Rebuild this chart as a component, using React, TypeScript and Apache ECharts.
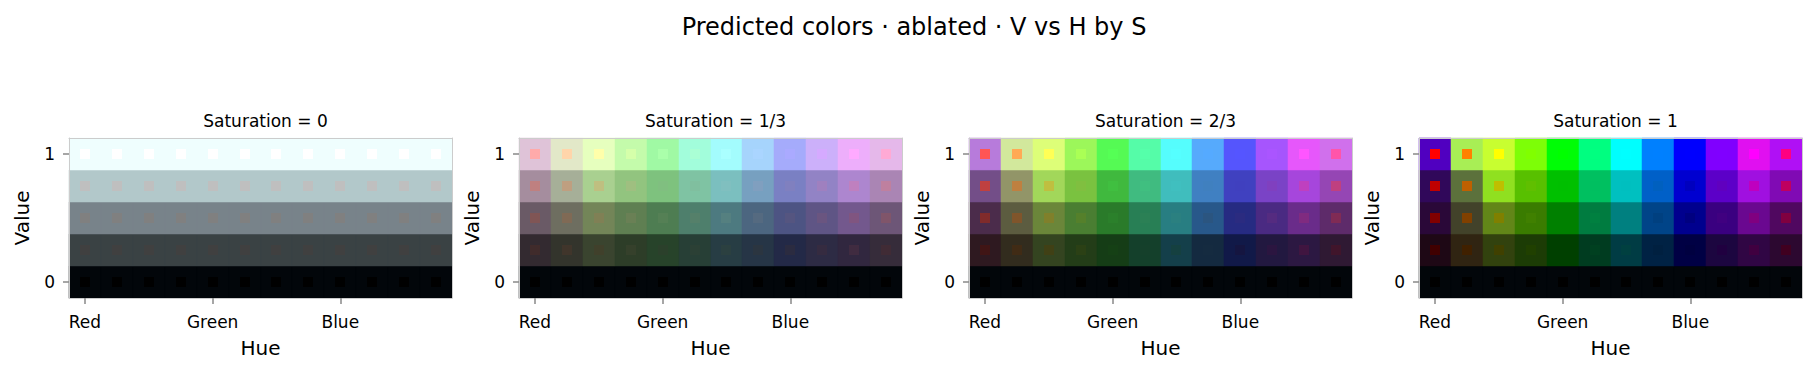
import React, { useEffect, useRef } from "react";
import * as echarts from "echarts";

const TITLE = "Predicted colors · ablated · V vs H by S";
const HUE_INDEX = [0, 1, 2, 3, 4, 5, 6, 7, 8, 9, 10, 11];
const HUE_LABELS = ["Red", "", "", "", "Green", "", "", "", "Blue", "", "", ""];
const VALUES = [0, 0.25, 0.5, 0.75, 1];
const VALUE_LABELS = ["0", "", "", "", "1"];
const SATURATIONS = [0, 1 / 3, 2 / 3, 1];
const SAT_LABELS = ["0", "1/3", "2/3", "1"];

// predicted colours, rows from V=0 (bottom) to V=1 (top), 12 hues each
const PRED_S0 = [
  ["#02060a", "#02060a", "#02060a", "#02060a", "#02060a", "#02060a", "#02060a", "#02060a", "#02060a", "#02060a", "#02060a", "#02060a"],
  ["#3a4244", "#3a4244", "#3a4244", "#3a4244", "#3a4244", "#3a4244", "#3a4244", "#3a4244", "#3a4244", "#3a4244", "#3a4244", "#3a4244"],
  ["#78838a", "#78838a", "#78838a", "#78838a", "#78838a", "#78838a", "#78838a", "#78838a", "#78838a", "#78838a", "#78838a", "#78838a"],
  ["#b2c8ca", "#b2c8ca", "#b2c8ca", "#b2c8ca", "#b2c8ca", "#b2c8ca", "#b2c8ca", "#b2c8ca", "#b2c8ca", "#b2c8ca", "#b2c8ca", "#b2c8ca"],
  ["#effefe", "#effefe", "#effefe", "#effefe", "#effefe", "#effefe", "#effefe", "#effefe", "#effefe", "#effefe", "#effefe", "#effefe"],
];
const PRED_S1 = [
  ["#02060a", "#02060a", "#02060a", "#02060a", "#02060a", "#02060a", "#02060a", "#02060a", "#02060a", "#02060a", "#02060a", "#02060a"],
  ["#332a30", "#33342c", "#3a442f", "#2d3d28", "#27432a", "#273f36", "#273d44", "#263546", "#232947", "#2d2b44", "#31273f", "#362c3a"],
  ["#6a5a66", "#6e6e60", "#738558", "#5f7f52", "#4e7d52", "#4e7f6c", "#4d7a80", "#4c6680", "#4d5483", "#5f5585", "#73588d", "#6d5677"],
  ["#a58d9e", "#a6af98", "#a9d090", "#92c47f", "#7ec27e", "#7fc3a3", "#7bbfbf", "#77a0c0", "#7a80c3", "#9283c5", "#ad86cf", "#aa85b4"],
  ["#dfc3d8", "#e2e8c8", "#e6ffbe", "#c4fbab", "#a0f9a4", "#a2fddb", "#a3fcfd", "#a6d4fc", "#a5abfb", "#ccb0fa", "#edaefb", "#e5b8ea"],
];
const PRED_S2 = [
  ["#02060a", "#02060a", "#02060a", "#02060a", "#02060a", "#02060a", "#02060a", "#02060a", "#02060a", "#02060a", "#02060a", "#02060a"],
  ["#2e1920", "#322c1e", "#344420", "#233d18", "#153d16", "#14402b", "#143f4a", "#142a40", "#111948", "#221840", "#2c1842", "#2f1933"],
  ["#4b2c4b", "#5c5c40", "#6b863a", "#4a7e32", "#2a7b2a", "#287f55", "#287e82", "#28588a", "#262b82", "#4a2a82", "#6a2c8a", "#5e2b6a"],
  ["#734e88", "#929568", "#a2d75a", "#7ac240", "#40b93e", "#40bb80", "#40bdbd", "#4080c2", "#4041c0", "#7a43c6", "#a646dc", "#9546b4"],
  ["#b77bdb", "#d2e89c", "#ddfe78", "#9cf75a", "#55fa54", "#55fca8", "#55fdfd", "#56aafc", "#5555fd", "#a655fd", "#e657fb", "#d070ec"],
];
const PRED_S3 = [
  ["#02060a", "#02060a", "#02060a", "#02060a", "#02060a", "#02060a", "#02060a", "#02060a", "#02060a", "#02060a", "#02060a", "#02060a"],
  ["#1e0815", "#302412", "#32420e", "#1c3c05", "#004000", "#003c20", "#003c44", "#002244", "#000044", "#1c0640", "#300644", "#2c0830"],
  ["#2a0838", "#42422a", "#628618", "#3a7c00", "#008000", "#007c40", "#008080", "#004488", "#00008e", "#3a0080", "#6a0890", "#500860"],
  ["#30085a", "#5c713c", "#90e020", "#58c000", "#00c000", "#00c060", "#00c0c0", "#0060c8", "#0000d0", "#5c00c8", "#a010e0", "#800ab4"],
  ["#5000c0", "#a8ee55", "#c8fe30", "#7dfe07", "#00fd06", "#00fe80", "#00fefe", "#0080fe", "#0000fe", "#8000fe", "#e010f0", "#b010f5"],
];
const PRED = [PRED_S0, PRED_S1, PRED_S2, PRED_S3];

// the true colour of a cell is the HSV colour at its coordinates
function hsvToHex(h: number, s: number, v: number): string {
  const i = Math.floor(h * 6);
  const f = h * 6 - i;
  const p = v * (1 - s);
  const q = v * (1 - f * s);
  const t = v * (1 - (1 - f) * s);
  let r = 0, g = 0, b = 0;
  switch (((i % 6) + 6) % 6) {
    case 0: r = v; g = t; b = p; break;
    case 1: r = q; g = v; b = p; break;
    case 2: r = p; g = v; b = t; break;
    case 3: r = p; g = q; b = v; break;
    case 4: r = t; g = p; b = v; break;
    default: r = v; g = p; b = q; break;
  }
  const hx = (x: number) => Math.round(x * 255).toString(16).padStart(2, "0");
  return "#" + hx(r) + hx(g) + hx(b);
}

const FONT = "DejaVu Sans";
const GRID_LEFTS = [69, 519, 969, 1419];
const GRID_W = 383;
const GRID_TOP = 138;
const GRID_H = 160;

export default function App() {
  const ref = useRef<HTMLDivElement>(null);
  useEffect(() => {
    document.body.style.margin = "0";
    const chart = echarts.init(ref.current!, null, { renderer: "svg" });
    const grids: any[] = [];
    const xAxes: any[] = [];
    const yAxes: any[] = [];
    const series: any[] = [];
    const titles: any[] = [
      {
        text: TITLE,
        left: 909,
        top: 10,
        textAlign: "center",
        textStyle: { fontFamily: FONT, fontSize: 24, fontWeight: "normal", color: "#000" },
      },
    ];
    SATURATIONS.forEach((s, k) => {
      grids.push({ left: GRID_LEFTS[k], top: GRID_TOP, width: GRID_W, height: GRID_H, containLabel: false });
      titles.push({
        text: "Saturation = " + SAT_LABELS[k],
        left: GRID_LEFTS[k] + GRID_W / 2,
        top: 107,
        textAlign: "center",
        textStyle: { fontFamily: FONT, fontSize: 17, fontWeight: "normal", color: "#000" },
      });
      xAxes.push({
        type: "category",
        gridIndex: k,
        data: HUE_INDEX.map(String),
        position: "bottom",
        boundaryGap: true,
        z: 5,
        axisLine: { show: true, lineStyle: { color: "#cccccc", width: 1 } },
        axisTick: {
          show: true,
          alignWithLabel: true,
          length: 6,
          interval: (i: number) => HUE_LABELS[i] !== "",
          lineStyle: { color: "#888888", width: 1.5 },
        },
        axisLabel: {
          interval: 0,
          margin: 15,
          formatter: (_v: string, i: number) => HUE_LABELS[i],
          fontFamily: FONT,
          fontSize: 17,
          color: "#000",
        },
        splitLine: { show: false },
        name: "Hue",
        nameLocation: "middle",
        nameGap: 40,
        nameTextStyle: { fontFamily: FONT, fontSize: 20, color: "#000" },
      });
      xAxes.push({
        type: "category",
        gridIndex: k,
        data: HUE_INDEX.map(String),
        position: "top",
        z: 5,
        axisLine: { show: true, lineStyle: { color: "#cccccc", width: 1 } },
        axisTick: { show: false },
        axisLabel: { show: false },
      });
      yAxes.push({
        type: "category",
        gridIndex: k,
        data: VALUES.map(String),
        position: "left",
        boundaryGap: true,
        z: 5,
        axisLine: { show: true, lineStyle: { color: "#cccccc", width: 1 } },
        axisTick: {
          show: true,
          alignWithLabel: true,
          length: 6,
          interval: (i: number) => VALUE_LABELS[i] !== "",
          lineStyle: { color: "#888888", width: 1.5 },
        },
        axisLabel: {
          interval: 0,
          margin: 14,
          formatter: (_v: string, i: number) => VALUE_LABELS[i],
          fontFamily: FONT,
          fontSize: 17,
          color: "#000",
        },
        splitLine: { show: false },
        name: "Value",
        nameLocation: "middle",
        nameGap: 37,
        nameRotate: 90,
        nameTextStyle: { fontFamily: FONT, fontSize: 20, color: "#000" },
      });
      yAxes.push({
        type: "category",
        gridIndex: k,
        data: VALUES.map(String),
        position: "right",
        z: 5,
        axisLine: { show: true, lineStyle: { color: "#cccccc", width: 1 } },
        axisTick: { show: false },
        axisLabel: { show: false },
      });
      const data: any[] = [];
      const preds: string[] = [];
      const trues: string[] = [];
      VALUES.forEach((v, yi) => {
        HUE_INDEX.forEach((h) => {
          data.push([h, yi]);
          preds.push(PRED[k][yi][h]);
          trues.push(hsvToHex(h / 12, s, v));
        });
      });
      series.push({
        type: "custom",
        xAxisIndex: 2 * k,
        yAxisIndex: 2 * k,
        data,
        renderItem: (params: any, api: any) => {
          const c = api.coord([api.value(0), api.value(1)]);
          const sz = api.size([1, 1]);
          const w = sz[0], h = sz[1];
          const x0 = Math.round(c[0] - w / 2);
          const x1 = Math.round(c[0] + w / 2);
          const y0 = Math.round(c[1] - h / 2);
          const y1 = Math.round(c[1] + h / 2);
          const sq = Math.round(Math.min(w, h) * 0.31);
          const sx = Math.round(c[0] - sq / 2);
          const sy = Math.round(c[1] - sq / 2);
          return {
            type: "group",
            children: [
              {
                type: "rect",
                shape: { x: x0, y: y0, width: x1 - x0, height: y1 - y0 },
                style: { fill: preds[params.dataIndex], stroke: preds[params.dataIndex], lineWidth: 0.5 },
              },
              {
                type: "rect",
                shape: { x: sx, y: sy, width: sq, height: sq },
                style: { fill: trues[params.dataIndex] },
              },
            ],
          };
        },
      });
    });
    chart.setOption({
      animation: false,
      backgroundColor: "#ffffff",
      title: titles,
      grid: grids,
      xAxis: xAxes,
      yAxis: yAxes,
      series,
    });
    return () => chart.dispose();
  }, []);
  return <div ref={ref} style={{ width: 1817, height: 374 }} />;
}
